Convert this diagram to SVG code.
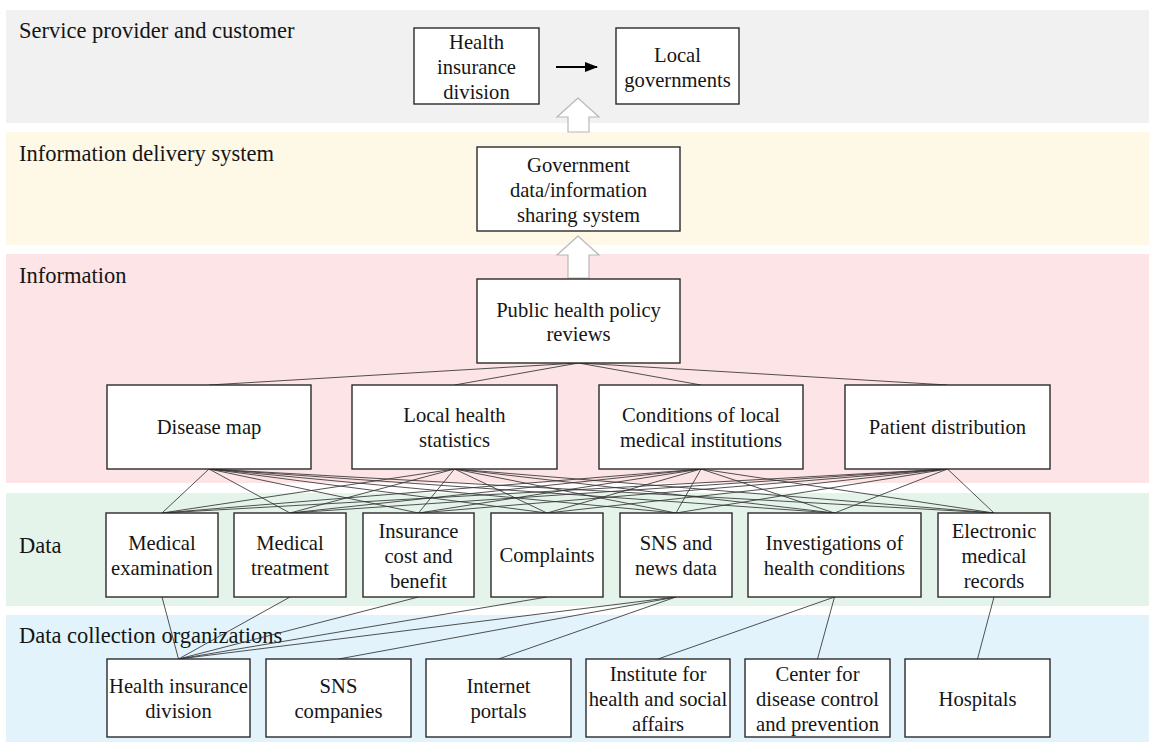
<svg xmlns="http://www.w3.org/2000/svg" width="1149" height="742" viewBox="0 0 1149 742" font-family="'Liberation Serif', 'Times New Roman', Tinos, 'DejaVu Serif', serif">
<defs>
<style>
text{font-family:'Liberation Serif','Times New Roman',Tinos,'DejaVu Serif',serif}
.band-label{font-size:22.5px;fill:#151515}
.box{fill:#ffffff;stroke:#2a2a2a;stroke-width:1.4}
.t{font-size:20.6px;fill:#151515;text-anchor:middle}
.c{stroke:#333333;stroke-width:0.85;fill:none}
.hollow{fill:#ffffff;stroke:#b8b8b8;stroke-width:1.2}
</style>
<marker id="ah" viewBox="0 0 13 10" refX="12" refY="5" markerWidth="13" markerHeight="10" orient="auto" markerUnits="userSpaceOnUse">
<path d="M0,0 L13,5 L0,10 z" fill="#000"/>
</marker>
</defs>

<g id="bands">
<rect x="6" y="10" width="1143" height="113" fill="#f1f1f1"/>
<rect x="6" y="132" width="1143" height="113" fill="#fef8e7"/>
<rect x="6" y="254" width="1143" height="229" fill="#fde4e6"/>
<rect x="6" y="493" width="1143" height="113" fill="#e5f4eb"/>
<rect x="6" y="615" width="1143" height="127" fill="#e2f3fb"/>
<text class="band-label" x="19" y="38">Service provider and customer</text>
<text class="band-label" x="19" y="161">Information delivery system</text>
<text class="band-label" x="19" y="283">Information</text>
<text class="band-label" x="19" y="553">Data</text>
<text class="band-label" x="19" y="643">Data collection organizations</text>
</g>

<g id="connectors">
<line x1="556" y1="67" x2="597" y2="67" stroke="#000" stroke-width="2" marker-end="url(#ah)"/>
<polygon class="hollow" points="578,98 557,117 568,117 568,132 589,132 589,117 599,117"/>
<polygon class="hollow" points="578,236 557,255 568,255 568,278 589,278 589,255 599,255"/>
<line class="c" x1="578.5" y1="363" x2="209" y2="385"/>
<line class="c" x1="578.5" y1="363" x2="454.5" y2="385"/>
<line class="c" x1="578.5" y1="363" x2="701" y2="385"/>
<line class="c" x1="578.5" y1="363" x2="947.5" y2="385"/>
<g>
<line class="c" x1="209" y1="469" x2="162" y2="513"/>
<line class="c" x1="209" y1="469" x2="290" y2="513"/>
<line class="c" x1="209" y1="469" x2="418.5" y2="513"/>
<line class="c" x1="209" y1="469" x2="547" y2="513"/>
<line class="c" x1="209" y1="469" x2="676" y2="513"/>
<line class="c" x1="209" y1="469" x2="834.5" y2="513"/>
<line class="c" x1="209" y1="469" x2="994" y2="513"/>
<line class="c" x1="454.5" y1="469" x2="162" y2="513"/>
<line class="c" x1="454.5" y1="469" x2="290" y2="513"/>
<line class="c" x1="454.5" y1="469" x2="418.5" y2="513"/>
<line class="c" x1="454.5" y1="469" x2="547" y2="513"/>
<line class="c" x1="454.5" y1="469" x2="676" y2="513"/>
<line class="c" x1="454.5" y1="469" x2="834.5" y2="513"/>
<line class="c" x1="454.5" y1="469" x2="994" y2="513"/>
<line class="c" x1="701" y1="469" x2="162" y2="513"/>
<line class="c" x1="701" y1="469" x2="290" y2="513"/>
<line class="c" x1="701" y1="469" x2="418.5" y2="513"/>
<line class="c" x1="701" y1="469" x2="547" y2="513"/>
<line class="c" x1="701" y1="469" x2="676" y2="513"/>
<line class="c" x1="701" y1="469" x2="834.5" y2="513"/>
<line class="c" x1="701" y1="469" x2="994" y2="513"/>
<line class="c" x1="947.5" y1="469" x2="162" y2="513"/>
<line class="c" x1="947.5" y1="469" x2="290" y2="513"/>
<line class="c" x1="947.5" y1="469" x2="418.5" y2="513"/>
<line class="c" x1="947.5" y1="469" x2="547" y2="513"/>
<line class="c" x1="947.5" y1="469" x2="676" y2="513"/>
<line class="c" x1="947.5" y1="469" x2="834.5" y2="513"/>
<line class="c" x1="947.5" y1="469" x2="994" y2="513"/>
</g>
<line class="c" x1="162" y1="597" x2="178.5" y2="659"/>
<line class="c" x1="290" y1="597" x2="178.5" y2="659"/>
<line class="c" x1="418.5" y1="597" x2="178.5" y2="659"/>
<line class="c" x1="547" y1="597" x2="178.5" y2="659"/>
<line class="c" x1="676" y1="597" x2="178.5" y2="659"/>
<line class="c" x1="676" y1="597" x2="338.5" y2="659"/>
<line class="c" x1="676" y1="597" x2="498.5" y2="659"/>
<line class="c" x1="834.5" y1="597" x2="658" y2="659"/>
<line class="c" x1="834.5" y1="597" x2="817.5" y2="659"/>
<line class="c" x1="994" y1="597" x2="977.5" y2="659"/>
</g>

<g id="node-hid-top"><rect class="box" x="414" y="28" width="125" height="76"/>
<text class="t" x="476.5" y="49">Health</text><text class="t" x="476.5" y="74">insurance</text><text class="t" x="476.5" y="99">division</text></g>
<g id="node-local-gov"><rect class="box" x="616" y="28" width="123" height="76"/>
<text class="t" x="677.5" y="62">Local</text><text class="t" x="677.5" y="87">governments</text></g>

<g id="node-gov-sharing"><rect class="box" x="477" y="147" width="203" height="84"/>
<text class="t" x="578.5" y="172">Government</text><text class="t" x="578.5" y="197">data/information</text><text class="t" x="578.5" y="222">sharing system</text></g>

<g id="node-public-health"><rect class="box" x="477" y="279" width="203" height="84"/>
<text class="t" x="578.5" y="317">Public health policy</text><text class="t" x="578.5" y="341">reviews</text></g>

<g id="node-disease-map"><rect class="box" x="107" y="385" width="204" height="84"/>
<text class="t" x="209" y="434">Disease map</text></g>
<g id="node-local-stats"><rect class="box" x="352" y="385" width="205" height="84"/>
<text class="t" x="454.5" y="422">Local health</text><text class="t" x="454.5" y="447">statistics</text></g>
<g id="node-conditions"><rect class="box" x="599" y="385" width="204" height="84"/>
<text class="t" x="701" y="422">Conditions of local</text><text class="t" x="701" y="447">medical institutions</text></g>
<g id="node-patient"><rect class="box" x="845" y="385" width="205" height="84"/>
<text class="t" x="947.5" y="434">Patient distribution</text></g>

<g id="node-med-exam"><rect class="box" x="106" y="513" width="112" height="84"/>
<text class="t" x="162" y="550">Medical</text><text class="t" x="162" y="575">examination</text></g>
<g id="node-med-treat"><rect class="box" x="234" y="513" width="112" height="84"/>
<text class="t" x="290" y="550">Medical</text><text class="t" x="290" y="575">treatment</text></g>
<g id="node-insurance"><rect class="box" x="363" y="513" width="111" height="84"/>
<text class="t" x="418.5" y="538">Insurance</text><text class="t" x="418.5" y="563">cost and</text><text class="t" x="418.5" y="588">benefit</text></g>
<g id="node-complaints"><rect class="box" x="491" y="513" width="112" height="84"/>
<text class="t" x="547" y="562">Complaints</text></g>
<g id="node-sns-news"><rect class="box" x="620" y="513" width="112" height="84"/>
<text class="t" x="676" y="550">SNS and</text><text class="t" x="676" y="575">news data</text></g>
<g id="node-investigations"><rect class="box" x="748" y="513" width="173" height="84"/>
<text class="t" x="834.5" y="550">Investigations of</text><text class="t" x="834.5" y="575">health conditions</text></g>
<g id="node-emr"><rect class="box" x="938" y="513" width="112" height="84"/>
<text class="t" x="994" y="538">Electronic</text><text class="t" x="994" y="563">medical</text><text class="t" x="994" y="588">records</text></g>

<g id="node-hid"><rect class="box" x="107" y="659" width="143" height="78"/>
<text class="t" x="178.5" y="693">Health insurance</text><text class="t" x="178.5" y="718">division</text></g>
<g id="node-sns-companies"><rect class="box" x="266" y="659" width="145" height="78"/>
<text class="t" x="338.5" y="693">SNS</text><text class="t" x="338.5" y="718">companies</text></g>
<g id="node-portals"><rect class="box" x="426" y="659" width="145" height="78"/>
<text class="t" x="498.5" y="693">Internet</text><text class="t" x="498.5" y="718">portals</text></g>
<g id="node-institute"><rect class="box" x="586" y="659" width="144" height="78"/>
<text class="t" x="658" y="681">Institute for</text><text class="t" x="658" y="706">health and social</text><text class="t" x="658" y="731">affairs</text></g>
<g id="node-cdc"><rect class="box" x="745" y="659" width="145" height="78"/>
<text class="t" x="817.5" y="681">Center for</text><text class="t" x="817.5" y="706">disease control</text><text class="t" x="817.5" y="731">and prevention</text></g>
<g id="node-hospitals"><rect class="box" x="905" y="659" width="145" height="78"/>
<text class="t" x="977.5" y="706">Hospitals</text></g>
</svg>
